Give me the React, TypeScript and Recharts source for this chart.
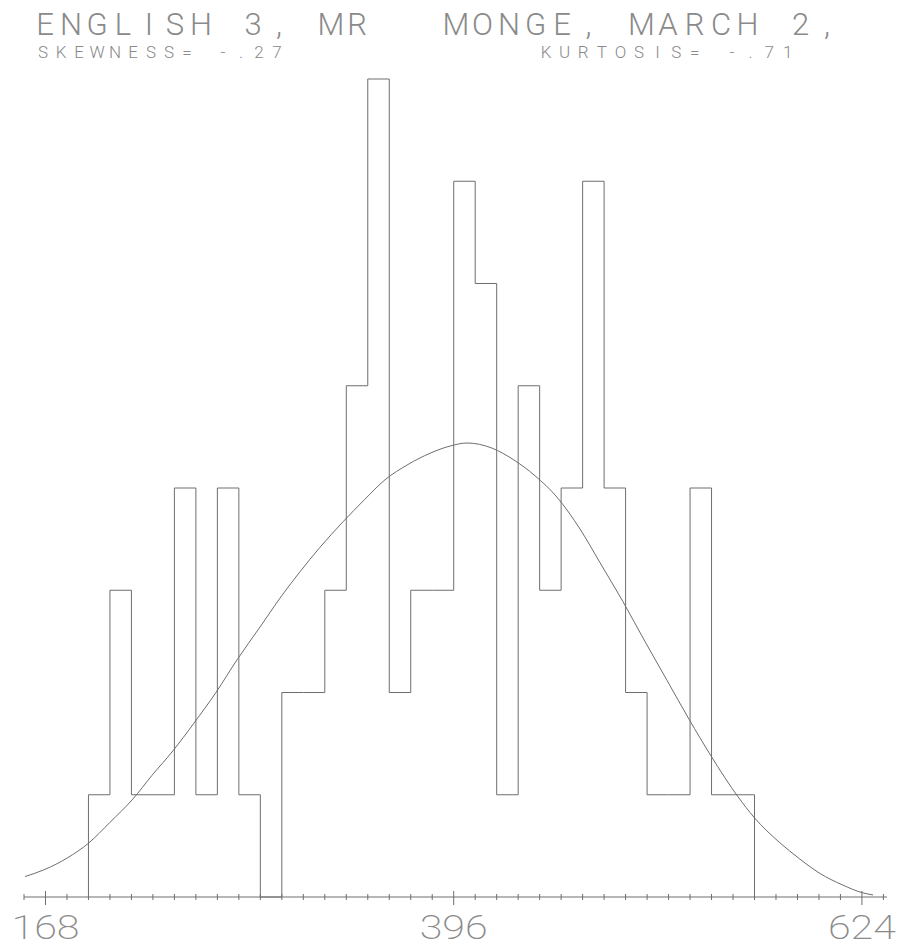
import React from 'react';
import { ComposedChart, Line, XAxis, YAxis } from 'recharts';

// Histogram bins (score class start, width 12) and counts
const binStarts = [192, 204, 216, 228, 240, 252, 264, 276, 288, 300, 312, 324, 336, 348, 360, 372, 384, 396, 408, 420, 432, 444, 456, 468, 480, 492, 504, 516, 528, 540, 552];
const binCounts = [1, 3, 1, 1, 4, 1, 4, 1, 0, 2, 2, 3, 5, 8, 2, 3, 3, 7, 6, 1, 5, 3, 4, 7, 4, 2, 1, 1, 4, 1, 1];
const binEnd = 564;

// Fitted curve
const curveScores = [156.6, 167.7, 180, 192.3, 204, 216.9, 227.5, 239.2, 250.9, 263.2, 275, 287.8, 300.1, 310.1, 321.3, 334.2, 346.4, 357.6, 370.5, 382.8, 393.9, 403.4, 417.4, 429.1, 441.4, 453.7, 466.5, 477.7, 490.5, 502.8, 515.1, 527.4, 539.7, 554.8, 563.7, 578.2, 589.4, 600.6, 612.9, 624.6, 630.2];
const curveValues = [0.2, 0.27, 0.38, 0.53, 0.73, 0.96, 1.19, 1.43, 1.7, 2.0, 2.32, 2.64, 2.95, 3.18, 3.42, 3.67, 3.89, 4.08, 4.23, 4.34, 4.41, 4.44, 4.39, 4.28, 4.12, 3.91, 3.6, 3.27, 2.89, 2.5, 2.12, 1.74, 1.38, 0.98, 0.78, 0.53, 0.37, 0.23, 0.12, 0.04, 0.02];

const xTicks = [156, 168, 180, 192, 204, 216, 228, 240, 252, 264, 276, 288, 300, 312, 324, 336, 348, 360, 372, 384, 396, 408, 420, 432, 444, 456, 468, 480, 492, 504, 516, 528, 540, 552, 564, 576, 588, 600, 612, 624, 636];
const xLabels = [168, 396, 624];
const yTicks = [0, 1, 2, 3, 4, 5, 6, 7, 8];

const titlePart1 = 'ENGLISH 3, MR';
const titlePart2 = 'MONGE, MARCH 2,';
const skewText = 'SKEWNESS= -.27';
const kurtText = 'KURTOSIS= -.71';

const stepData = [
  { x: binStarts[0], y: 0 },
  ...binStarts.map((s, i) => ({ x: s, y: binCounts[i] })),
  { x: binEnd, y: binCounts[binCounts.length - 1] },
  { x: binEnd, y: 0 },
];
const curveData = curveScores.map((s, i) => ({ x: s, y: curveValues[i] }));

const LINE = '#6e6e6e';
const TEXT = '#8a8a8a';
const FONT = 'Roboto, "DejaVu Sans", sans-serif';

// Monospaced plotter-style text: each glyph centred on its own cell
const Mono = ({ text, x0, pitch, y, size, weight }: any) => {
  const xs = text.split('').map((_: string, i: number) => (x0 + i * pitch).toFixed(1)).join(' ');
  return (
    <text x={xs} y={y} textAnchor="middle" fill={TEXT} fontFamily={FONT} fontWeight={weight} fontSize={size}>
      {text}
    </text>
  );
};

const XTick = (props: any) => {
  const { x, y, payload } = props;
  const major = xLabels.includes(payload.value);
  return (
    <g>
      <line x1={x} x2={x} y1={y - (major ? 6 : 3)} y2={y + (major ? 8 : 3)} stroke={LINE} strokeWidth={1} />
      {major && (
        <text
          x={x}
          y={y + 42}
          textAnchor="middle"
          fill={TEXT}
          fontFamily={FONT}
          fontWeight={200}
          fontSize={33}
          textLength={68}
          lengthAdjust="spacingAndGlyphs"
        >
          {payload.value}
        </text>
      )}
    </g>
  );
};

const YTick = (props: any) => {
  const { x, y } = props;
  return <line x1={x - 4} x2={x + 4} y1={y} y2={y} stroke={LINE} strokeWidth={1} />;
};

export default function App() {
  return (
    <div style={{ position: 'absolute', left: 0, top: 0, width: 897, height: 947, background: '#fff' }}>
      <ComposedChart
        width={897}
        height={947}
        margin={{ top: 79, right: 10, bottom: 0, left: 24 }}
      >
        <XAxis
          type="number"
          dataKey="x"
          domain={[156, 638]}
          ticks={xTicks}
          interval={0}
          allowDataOverflow
          height={50}
          tickSize={0}
          tickMargin={0}
          tickLine={false}
          axisLine={{ stroke: LINE, strokeWidth: 1 }}
          tick={<XTick />}
        />
        <YAxis
          type="number"
          domain={[0, 8]}
          ticks={yTicks}
          interval={0}
          width={0}
          tickSize={0}
          tickMargin={0}
          tickLine={false}
          axisLine={{ stroke: LINE, strokeWidth: 1 }}
          tick={<YTick />}
        />
        <Line
          data={stepData}
          dataKey="y"
          type="stepAfter"
          stroke={LINE}
          strokeWidth={1}
          dot={false}
          isAnimationActive={false}
        />
        <Line
          data={curveData}
          dataKey="y"
          type="monotone"
          stroke={LINE}
          strokeWidth={1}
          dot={false}
          isAnimationActive={false}
        />
      </ComposedChart>
      <svg width={897} height={80} style={{ position: 'absolute', left: 0, top: 0 }}>
        <Mono text={titlePart1} x0={45} pitch={26} y={35} size={31} weight={300} />
        <Mono text={titlePart2} x0={456} pitch={26.5} y={35} size={31} weight={300} />
        <Mono text={skewText} x0={43} pitch={18} y={58} size={17} weight={300} />
        <Mono text={kurtText} x0={546} pitch={18.6} y={58} size={17} weight={300} />
      </svg>
    </div>
  );
}
